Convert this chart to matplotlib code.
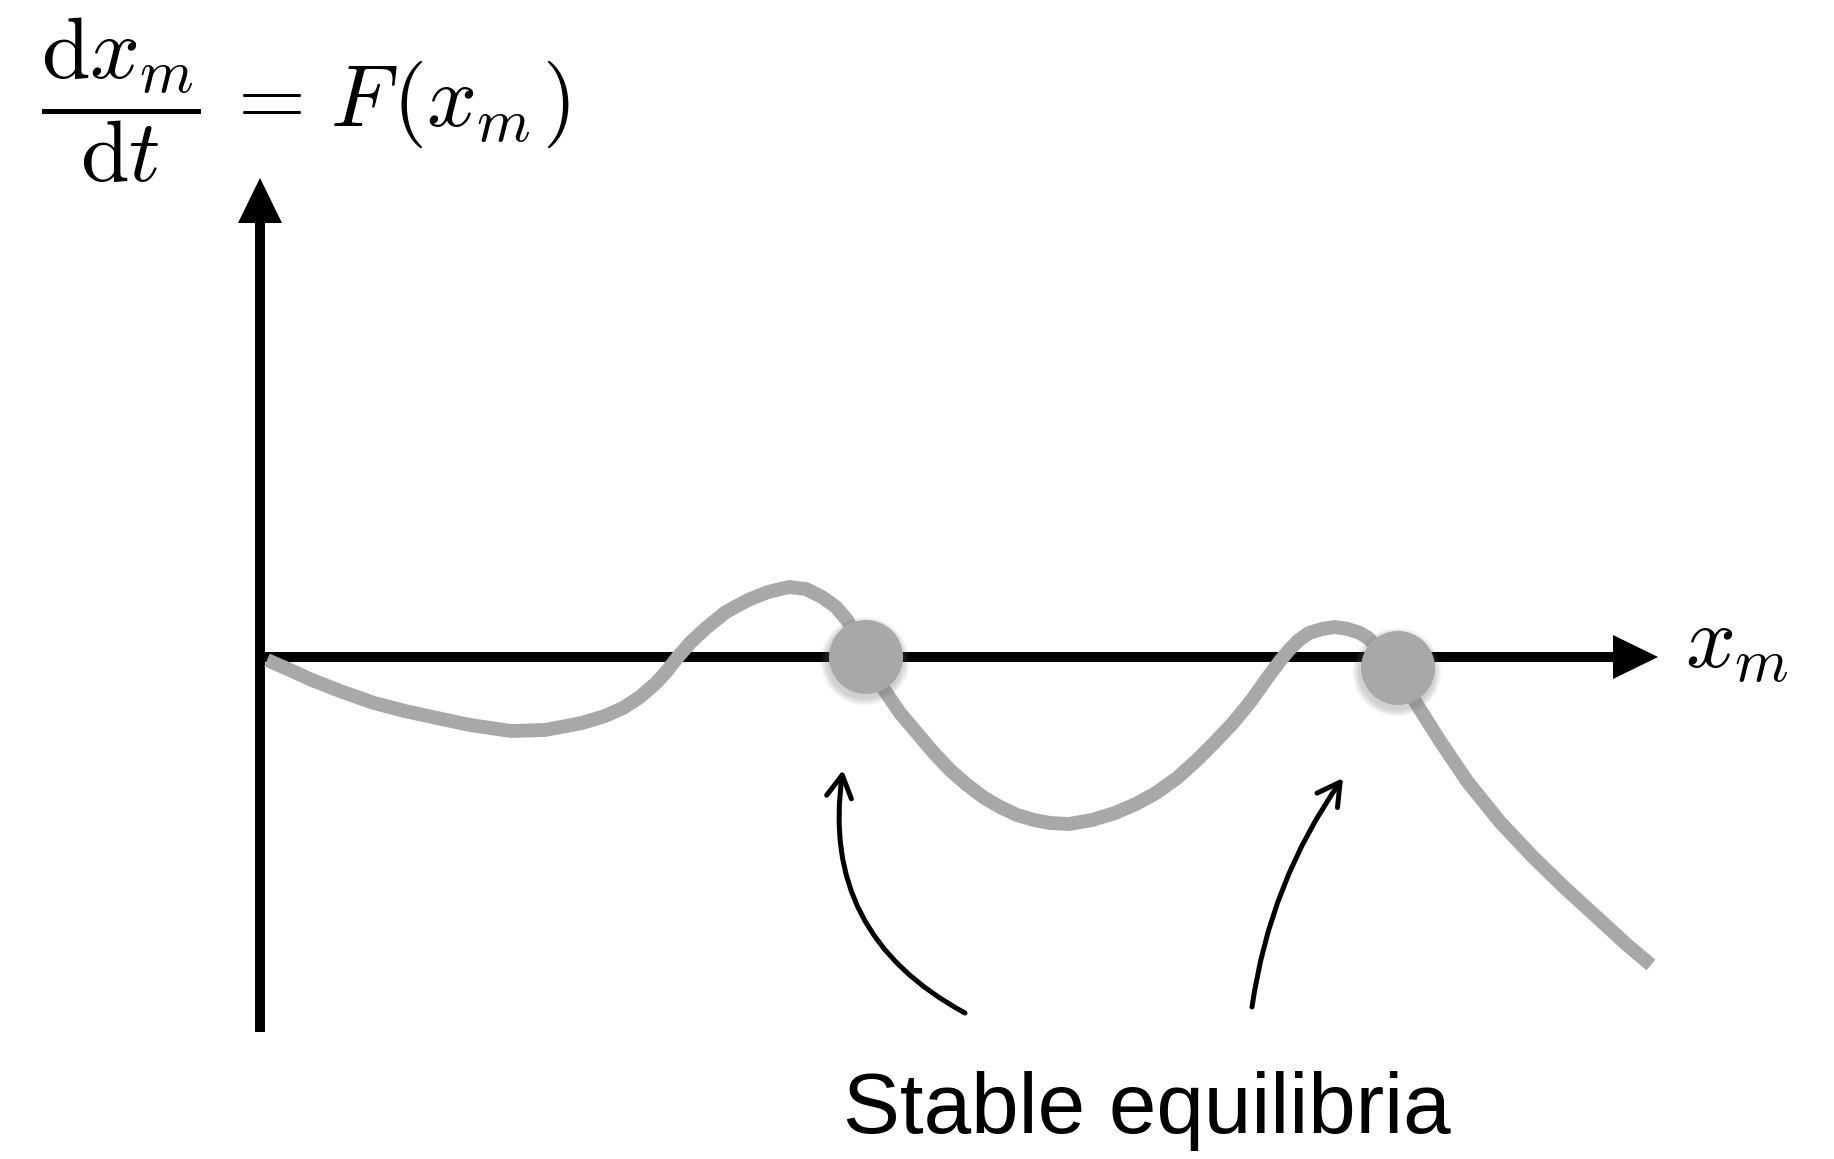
import matplotlib
matplotlib.use("Agg")
import matplotlib.pyplot as plt
from matplotlib.patches import Circle

plt.rcParams["mathtext.fontset"] = "cm"

# Phase-line sketch of dx_m/dt = F(x_m)
x_vals = [0.07, 0.30, 0.52, 0.80, 1.14, 1.45, 1.77, 2.10, 2.51, 2.85, 3.22, 3.45,
          3.63, 3.80, 3.96, 4.07, 4.17, 4.30, 4.46, 4.66, 4.88, 5.08, 5.29, 5.46,
          5.62, 5.76, 5.87, 5.97, 6.06,
          6.23, 6.40, 6.57, 6.73, 6.90, 7.06, 7.23, 7.40, 7.57, 7.74, 7.90, 8.09,
          8.32, 8.55, 8.76, 8.96, 9.17, 9.37, 9.55, 9.73, 9.91, 10.08, 10.20,
          10.29, 10.39, 10.49, 10.62, 10.75, 10.88, 11.00, 11.08, 11.15, 11.27,
          11.38,
          11.56, 11.80, 12.07, 12.40, 12.73, 13.06, 13.40, 13.66, 13.91]
f_vals = [-0.03, -0.13, -0.23, -0.34, -0.46, -0.54, -0.61, -0.68, -0.74, -0.73, -0.66, -0.59,
          -0.51, -0.40, -0.26, -0.14, -0.01, 0.14, 0.29, 0.45, 0.57, 0.65, 0.70, 0.68,
          0.60, 0.50, 0.37, 0.20, 0.00,
          -0.31, -0.56, -0.76, -0.95, -1.13, -1.27, -1.40, -1.50, -1.58, -1.63, -1.66, -1.67,
          -1.63, -1.56, -1.47, -1.36, -1.21, -1.03, -0.85, -0.66, -0.44, -0.20, -0.04,
          0.07, 0.17, 0.24, 0.28, 0.30, 0.28, 0.24, 0.19, 0.12, 0.01,
          -0.11,
          -0.46, -0.84, -1.24, -1.65, -2.00, -2.32, -2.63, -2.87, -3.08]

# Stable equilibria
eq_x = [6.06, 11.38]
eq_f = [0.00, -0.11]
eq_radius = 0.37

# Pointer arrows to the equilibria (tail -> head) and their bend
pointer_tail = [(7.05, -3.56), (9.92, -3.50)]
pointer_head = [(5.83, -1.13), (10.83, -1.21)]
pointer_bend = [-0.35, -0.12]

label_text = "Stable equilibria"
equation_text = (r"$\dfrac{\mathrm{d}x_m}{\mathrm{d}t}\,=\hspace{0.12}"
                 r"F\hspace{0.08}(x_m\hspace{0.08})$")
xaxis_text = r"$x_m$"

grey = "#a6a9a8"

fig = plt.figure(figsize=(18.34, 11.59), dpi=100)
ax = fig.add_axes([0, 0, 1, 1])
ax.set_xlim(-2.60, 15.74)
ax.set_ylim(-5.02, 6.57)
ax.axis("off")

# Axes drawn as arrows
ax.arrow(0, 0, 13.98, 0, width=0.10, head_width=0.44, head_length=0.45,
         length_includes_head=True, color="black", lw=0, zorder=2)
ax.arrow(0, -3.75, 0, 8.54, width=0.10, head_width=0.44, head_length=0.45,
         length_includes_head=True, color="black", lw=0, zorder=2)

# F(x_m)
ax.plot(x_vals, f_vals, color=grey, lw=10, solid_capstyle="butt",
        solid_joinstyle="round", zorder=3)

# Equilibrium markers with a soft shadow
for cx, cy in zip(eq_x, eq_f):
    for k in range(6):
        ax.add_patch(Circle((cx - 0.01, cy - 0.04), eq_radius + 0.012 * (k + 1),
                            color="#6f7170", alpha=0.06, lw=0, zorder=4))
    ax.add_patch(Circle((cx, cy), eq_radius, color=grey, lw=0, zorder=5))

# Curved pointers
for (tx, ty), (hx, hy), rad in zip(pointer_tail, pointer_head, pointer_bend):
    ax.annotate("", xy=(hx, hy), xytext=(tx, ty),
                arrowprops=dict(arrowstyle="->,head_length=0.8,head_width=0.45",
                                connectionstyle=f"arc3,rad={rad}",
                                color="black", lw=3.6, shrinkA=0, shrinkB=0,
                                mutation_scale=20),
                zorder=6)

ax.text(8.87, -4.76, label_text, fontsize=61.5, family="Liberation Sans",
        ha="center", va="baseline", color="black")
ax.text(-2.19, 5.30, equation_text, fontsize=63, ha="left", va="baseline")
ax.text(14.25, -0.11, xaxis_text, fontsize=63, ha="left", va="baseline")

fig.savefig("out.png", dpi=100)
